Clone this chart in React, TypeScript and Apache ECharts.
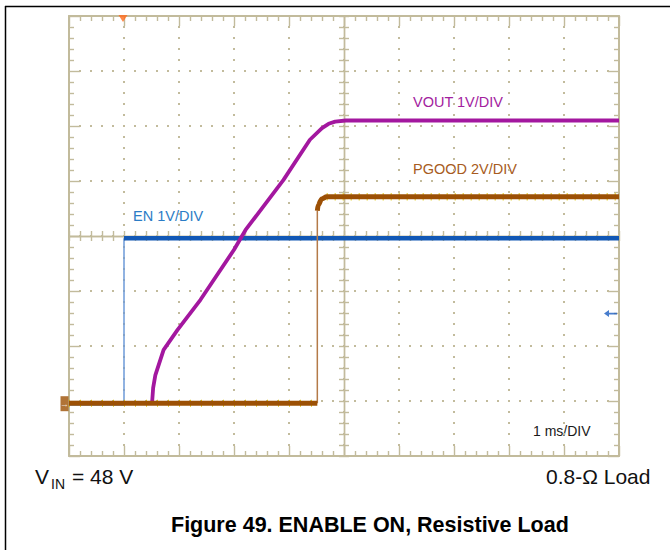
import React, { useEffect, useRef } from "react";
import * as echarts from "echarts";

// ---- scope settings ----
const TIME_MIN = -1; // ms (1 ms/DIV, trigger at 0)
const TIME_MAX = 9;
const DIV_MIN = 0;
const DIV_MAX = 8;
const GROUND_DIV = 0.96; // common ground reference, in divisions from bottom

const EN_SCALE = 1; // V/DIV
const VOUT_SCALE = 1; // V/DIV
const PGOOD_SCALE = 2; // V/DIV

// ---- EN (V) ----
const EN_LOW_T = [-1, 0];
const EN_LOW_V = [0, 0];
const EN_EDGE_T = [0, 0];
const EN_EDGE_V = [0, 3.0];
const EN_HIGH_T = [0, 9];
const EN_HIGH_V = [3.0, 3.0];
const EN_TRIGGER_LEVEL = 1.63;

// ---- VOUT (V) ----
const VOUT_T = [-1, 0.51, 0.53, 0.57, 0.72, 0.97, 1.39, 2.0, 2.21, 2.9, 3.38, 3.6, 3.72, 3.84, 4.03, 9];
const VOUT_V = [0, 0, 0.28, 0.51, 0.97, 1.33, 1.88, 2.79, 3.15, 4.06, 4.79, 5.0, 5.08, 5.12, 5.14, 5.14];

// ---- PGOOD (V) ----
const PG_LOW_T = [-1, 3.515];
const PG_LOW_V = [0, 0];
const PG_EDGE_T = [3.515, 3.515];
const PG_EDGE_V = [0, 7.0];
const PG_HIGH_T = [3.515, 3.53, 3.595, 3.685, 9];
const PG_HIGH_V = [7.0, 7.2, 7.43, 7.51, 7.51];

// ---- labels ----
const VOUT_LABEL = "VOUT 1V/DIV";
const PG_LABEL = "PGOOD 2V/DIV";
const EN_LABEL = "EN 1V/DIV";
const TIME_LABEL = "1 ms/DIV";
const VIN_MAIN = "V";
const VIN_SUB = "IN";
const VIN_REST = "= 48 V";
const LOAD_LABEL = "0.8-Ω Load";
const TITLE = "Figure 49. ENABLE ON, Resistive Load";

const FONT = '"Liberation Sans", Arial, Helvetica, sans-serif';
const GRID_COLOR = "#c2bb9c";
const C_VOUT = "#a3179f";
const C_PG = "#9c5005";
const C_PG_THIN = "#b47a48";
const C_PG_NOISE = "#e2cc12";
const C_EN = "#1258b6";
const C_EN_THIN = "#6c9ad9";

const toDiv = (t: number[], v: number[], scale: number) =>
  t.map((x, i) => [x, GROUND_DIV + v[i] / scale]);

function buildOption() {
  const G = { left: 69, top: 16, width: 550, height: 440 };

  const dotted = { color: GRID_COLOR, width: 2, type: [2, 9], dashOffset: 1 };

  const xBase = (gridIndex: number, position: string, border: boolean, split: boolean) => ({
    type: "value",
    gridIndex,
    position,
    min: TIME_MIN,
    max: TIME_MAX,
    interval: 1,
    offset: border ? 0 : -220,
    axisLine: { show: true, onZero: false, lineStyle: { color: GRID_COLOR, width: border ? 2 : 1.4 } },
    axisTick: { show: true, inside: border, length: border ? 10 : 5, lineStyle: { color: GRID_COLOR, width: 1.4 } },
    minorTick: { show: true, splitNumber: 5, length: 5, lineStyle: { color: GRID_COLOR, width: 1.4 } },
    axisLabel: { show: false },
    splitLine: { show: split, lineStyle: dotted },
    minorSplitLine: { show: false },
  });
  const yBase = (gridIndex: number, position: string, border: boolean, split: boolean) => ({
    type: "value",
    gridIndex,
    position,
    min: DIV_MIN,
    max: DIV_MAX,
    interval: 1,
    offset: border ? 0 : -275,
    axisLine: { show: true, onZero: false, lineStyle: { color: GRID_COLOR, width: border ? 2 : 1.4 } },
    axisTick: { show: true, inside: border, length: border ? 11 : 5, lineStyle: { color: GRID_COLOR, width: 1.4 } },
    minorTick: { show: true, splitNumber: 5, length: 5, lineStyle: { color: GRID_COLOR, width: 1.4 } },
    axisLabel: { show: false },
    splitLine: { show: split, lineStyle: dotted },
    minorSplitLine: { show: false },
  });

  const line = (data: number[][], color: string, width: number, extra: any = {}) => ({
    type: "line",
    xAxisIndex: 0,
    yAxisIndex: 0,
    data,
    symbol: "none",
    showSymbol: false,
    silent: true,
    lineStyle: { color, width, cap: "butt", join: "round" },
    ...extra,
  });

  const txt = (text: string, x: number, y: number, size: number, color: string, weight = "normal") => ({
    type: "text",
    x,
    y,
    silent: true,
    style: {
      text,
      fill: color,
      fontSize: size,
      fontFamily: FONT,
      fontWeight: weight,
      align: "left",
      verticalAlign: "middle",
    },
  });

  return {
    animation: false,
    backgroundColor: "#ffffff",
    grid: [
      { ...G, outerBoundsMode: "none", containLabel: false },
      { ...G, outerBoundsMode: "none", containLabel: false },
    ],
    xAxis: [
      xBase(0, "bottom", true, true),
      xBase(0, "top", true, false),
      xBase(1, "bottom", false, false),
      xBase(1, "top", false, false),
    ],
    yAxis: [
      yBase(0, "left", true, true),
      yBase(0, "right", true, false),
      yBase(1, "left", false, false),
      yBase(1, "right", false, false),
    ],
    series: [
      line(toDiv(EN_EDGE_T, EN_EDGE_V, EN_SCALE), C_EN_THIN, 1.5),
      line(toDiv(EN_LOW_T, EN_LOW_V, EN_SCALE), C_EN, 4.5),
      line(toDiv(EN_HIGH_T, EN_HIGH_V, EN_SCALE), C_EN, 4.5),
      line(toDiv(VOUT_T, VOUT_V, VOUT_SCALE), C_VOUT, 3.8),
      line(toDiv(PG_EDGE_T, PG_EDGE_V, PGOOD_SCALE), C_PG_THIN, 1.5),
      // yellow acquisition specks around PGOOD trace
      line(toDiv(PG_LOW_T, PG_LOW_V, PGOOD_SCALE), C_PG_NOISE, 7, { lineStyle: { color: C_PG_NOISE, width: 7, type: [1, 10] } }),
      line(toDiv(PG_HIGH_T.slice(3), PG_HIGH_V.slice(3), PGOOD_SCALE), C_PG_NOISE, 7, { lineStyle: { color: C_PG_NOISE, width: 7.5, type: [1, 7] } }),
      line(toDiv(PG_LOW_T, PG_LOW_V, PGOOD_SCALE), C_PG, 5),
      line(toDiv(PG_HIGH_T, PG_HIGH_V, PGOOD_SCALE), C_PG, 5, { smooth: 0.3, smoothMonotone: "x" }),
      // trigger position marker (top)
      {
        type: "scatter",
        xAxisIndex: 0,
        yAxisIndex: 0,
        silent: true,
        clip: false,
        data: [[0, DIV_MAX]],
        symbol: "triangle",
        symbolRotate: 180,
        symbolSize: [9, 7],
        symbolOffset: [-1, 2.5],
        itemStyle: { color: "#ff6a1c" },
        z: 5,
      },
      // ground reference marker (left)
      {
        type: "scatter",
        xAxisIndex: 0,
        yAxisIndex: 0,
        silent: true,
        clip: false,
        data: [[TIME_MIN, GROUND_DIV]],
        symbol: "rect",
        symbolSize: [8, 15],
        symbolOffset: [-4.5, 0.5],
        itemStyle: { color: C_PG },
        label: {
          show: true,
          position: "inside",
          formatter: "→",
          color: "#ffffff",
          fontSize: 9,
          fontWeight: "bold",
          fontFamily: FONT,
        },
        z: 5,
      },
      // EN trigger level marker (right)
      {
        type: "scatter",
        xAxisIndex: 0,
        yAxisIndex: 0,
        silent: true,
        clip: false,
        data: [[TIME_MAX, GROUND_DIV + EN_TRIGGER_LEVEL / EN_SCALE]],
        symbol: "path://M0,4 L5,0 L5,3 L13,3 L13,5 L5,5 L5,8 Z",
        symbolSize: [13, 7],
        symbolOffset: [-8.5, 0],
        itemStyle: { color: "#1a5cc0" },
        z: 5,
      },
    ],
    graphic: [
      { type: "line", silent: true, shape: { x1: 5, y1: 6.5, x2: 670, y2: 6.5 }, style: { stroke: "#000", lineWidth: 1.5 } },
      { type: "line", silent: true, shape: { x1: 5.5, y1: 6, x2: 5.5, y2: 550 }, style: { stroke: "#000", lineWidth: 1.5 } },
      txt(VOUT_LABEL, 413, 102, 14.5, "#a2219e"),
      txt(PG_LABEL, 413, 169, 14.5, "#a75b21"),
      txt(EN_LABEL, 133, 216, 14.5, "#2b7cc6"),
      txt(TIME_LABEL, 533, 431, 14, "#1a1a1a"),
      txt(VIN_MAIN, 35, 476.5, 21, "#111"),
      txt(VIN_SUB, 51, 483.5, 14, "#111"),
      txt(VIN_REST, 72, 476.5, 21, "#111"),
      txt(LOAD_LABEL, 546, 476.5, 21, "#111"),
      txt(TITLE, 171, 525, 21.5, "#000", "bold"),
    ],
  };
}

export default function App() {
  const ref = useRef<HTMLDivElement>(null);
  useEffect(() => {
    if (!ref.current) return;
    const chart = echarts.init(ref.current, undefined, { renderer: "svg" });
    chart.setOption(buildOption() as any);
    return () => chart.dispose();
  }, []);
  return (
    <div
      ref={ref}
      style={{ position: "absolute", left: 0, top: 0, width: 670, height: 550, background: "#fff" }}
    />
  );
}
